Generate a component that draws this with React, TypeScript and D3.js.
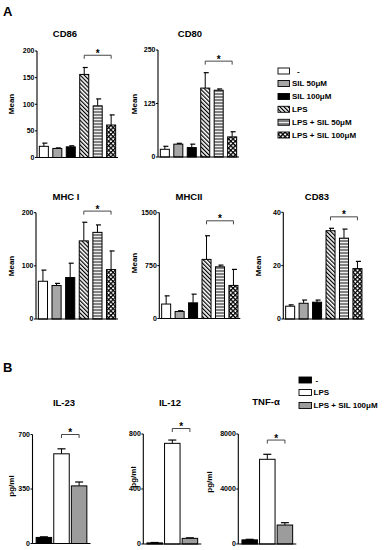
import React from 'react';
import * as d3 from 'd3';

const groupsA = ['-', 'SIL 50μM', 'SIL 100μM', 'LPS', 'LPS + SIL 50μM', 'LPS + SIL 100μM'];
const groupsB = ['-', 'LPS', 'LPS + SIL 100μM'];

const cd86Mean = [21, 17, 20, 156, 97, 61];
const cd86Err = [6, 1, 2, 13, 13, 19];
const cd80Mean = [18, 30, 22, 161, 156, 47];
const cd80Err = [7, 2, 8, 36, 3, 12];
const mhc1Mean = [71, 63, 78, 147, 163, 93];
const mhc1Err = [21, 4, 27, 35, 14, 35];
const mhc2Mean = [205, 100, 222, 838, 733, 469];
const mhc2Err = [116, 10, 123, 335, 24, 227];
const cd83Mean = [4.8, 5.9, 6.3, 33.1, 30.3, 18.9];
const cd83Err = [0.5, 1.2, 0.8, 0.9, 3.4, 2.7];

const il23Mean = [39, 576, 370];
const il23Err = [4, 32, 25];
const il12Mean = [8, 732, 41];
const il12Err = [3, 24, 4];
const tnfMean = [300, 6160, 1380];
const tnfErr = [40, 364, 170];

const ticksCD86 = [0, 50, 100, 150, 200];
const ticksCD80 = [0, 125, 250];
const ticksMHC1 = [0, 100, 200];
const ticksMHC2 = [0, 750, 1500];
const ticksCD83 = [0, 20, 40];
const ticksIL23 = [0, 350, 700];
const ticksIL12 = [0, 400, 800];
const ticksTNF = [0, 4000, 8000];

const sigCD86 = 192;
const sigCD80 = 224;
const sigMHC1 = 203;
const sigMHC2 = 1385;
const sigCD83 = 38.3;
const sigIL23 = 700;
const sigIL12 = 840;
const sigTNF = 7560;

const fillsA = ['#ffffff', '#a6a6a6', '#000000', 'url(#diag)', 'url(#horiz)', 'url(#cross)'];
const fillsB = ['#000000', '#ffffff', '#9c9c9c'];

type Panel = {
  title: string; mean: number[]; err: number[]; ticks: number[]; sig: number;
  ax: number; top: number; bottom: number; w: number;
  titleX: number; titleY: number; label: string; labelX: number; labelY: number;
  kind: 'A' | 'B';
};

const panels: Panel[] = [
  { title: 'CD86', mean: cd86Mean, err: cd86Err, ticks: ticksCD86, sig: sigCD86, ax: 37, top: 51, bottom: 157.5, w: 80, titleX: 65, titleY: 37, label: 'Mean', labelX: 14, labelY: 104, kind: 'A' },
  { title: 'CD80', mean: cd80Mean, err: cd80Err, ticks: ticksCD80, sig: sigCD80, ax: 158, top: 50, bottom: 157, w: 80, titleX: 190, titleY: 37, label: 'Mean', labelX: 137, labelY: 104, kind: 'A' },
  { title: 'MHC I', mean: mhc1Mean, err: mhc1Err, ticks: ticksMHC1, sig: sigMHC1, ax: 36, top: 212.7, bottom: 319, w: 81, titleX: 66, titleY: 200, label: 'Mean', labelX: 14, labelY: 266, kind: 'A' },
  { title: 'MHCII', mean: mhc2Mean, err: mhc2Err, ticks: ticksMHC2, sig: sigMHC2, ax: 159.3, top: 212.7, bottom: 318.5, w: 80, titleX: 189, titleY: 200, label: 'Mean', labelX: 137, labelY: 263, kind: 'A' },
  { title: 'CD83', mean: cd83Mean, err: cd83Err, ticks: ticksCD83, sig: sigCD83, ax: 283.3, top: 212.3, bottom: 319, w: 80, titleX: 317, titleY: 200, label: 'Mean', labelX: 261, labelY: 266, kind: 'A' },
  { title: 'IL-23', mean: il23Mean, err: il23Err, ticks: ticksIL23, sig: sigIL23, ax: 32.5, top: 434.5, bottom: 543.5, w: 57, titleX: 64, titleY: 406, label: 'pg/ml', labelX: 14, labelY: 486, kind: 'B' },
  { title: 'IL-12', mean: il12Mean, err: il12Err, ticks: ticksIL12, sig: sigIL12, ax: 143.3, top: 434, bottom: 544, w: 57, titleX: 170, titleY: 406, label: 'pg/ml', labelX: 136, labelY: 477, kind: 'B' },
  { title: 'TNF-α', mean: tnfMean, err: tnfErr, ticks: ticksTNF, sig: sigTNF, ax: 238.3, top: 434, bottom: 544, w: 57, titleX: 266, titleY: 405, label: 'pg/ml', labelX: 212, labelY: 482, kind: 'B' },
];

const FONT = '"Liberation Sans", Arial, sans-serif';

function PanelView({ p }: { p: Panel }) {
  const n = p.mean.length;
  const domainMax = p.ticks[p.ticks.length - 1];
  const y = d3.scaleLinear().domain([0, domainMax]).range([p.bottom, p.top]);
  const idx = d3.range(n).map(String);
  const x = d3.scaleBand<string>().domain(idx)
    .range([p.ax + 1, p.ax + p.w])
    .paddingInner(p.kind === 'A' ? 0.33 : 0.12)
    .paddingOuter(p.kind === 'A' ? 0.1 : 0.15);
  const bw = x.bandwidth();
  const fills = p.kind === 'A' ? fillsA : fillsB;
  const capW = p.kind === 'A' ? 5 : 8;
  const i1 = p.kind === 'A' ? 3 : 1;
  const i2 = n - 1;
  const bx1 = (x(String(i1)) as number) + bw / 2;
  const bx2 = (x(String(i2)) as number) + bw / 2;
  const by = y(p.sig);
  return (
    <g>
      <text x={p.titleX} y={p.titleY} textAnchor="middle" fontFamily={FONT} fontWeight="bold" fontSize={9.5}>{p.title}</text>
      <text transform={`translate(${p.labelX},${p.labelY}) rotate(-90)`} textAnchor="middle" fontFamily={FONT} fontWeight="bold" fontSize={8}>{p.label}</text>
      {p.mean.map((v, i) => {
        const xx = x(String(i)) as number;
        const cx = xx + bw / 2;
        return (
          <g key={i}>
            <line x1={cx} x2={cx} y1={y(v)} y2={y(v + p.err[i])} stroke="#000" strokeWidth={1} />
            <line x1={cx - capW / 2 + (p.kind === 'A' ? 1 : 0)} x2={cx + capW / 2 + (p.kind === 'A' ? 1 : 0)} y1={y(v + p.err[i])} y2={y(v + p.err[i])} stroke="#000" strokeWidth={1.2} />
            <rect x={xx} y={y(v)} width={bw} height={y(0) - y(v)} fill={fills[i]} stroke="#000" strokeWidth={1} />
          </g>
        );
      })}
      <line x1={p.ax} x2={p.ax} y1={y(domainMax)} y2={y(0)} stroke="#000" strokeWidth={1.1} />
      <line x1={p.ax} x2={p.ax + p.w + 1} y1={y(0)} y2={y(0)} stroke="#000" strokeWidth={1.1} />
      {p.ticks.map((t) => (
        <g key={t}>
          <line x1={p.ax - 2} x2={p.ax} y1={y(t)} y2={y(t)} stroke="#000" strokeWidth={1} />
          <text x={p.ax - 2.5} y={y(t) + 2.4} textAnchor="end" fontFamily={FONT} fontWeight="bold" fontSize={7}>{t}</text>
        </g>
      ))}
      <path d={`M${bx1},${by + 3.5}V${by}H${bx2}V${by + 3.5}`} fill="none" stroke="#333" strokeWidth={0.9} />
      <text x={(bx1 + bx2) / 2} y={by + 1.5} textAnchor="middle" fontFamily={FONT} fontWeight="bold" fontSize={10}>*</text>
    </g>
  );
}

const legendAX = 278;
const legendAY = [71, 83.5, 96.5, 109.3, 122.3, 135];
const legendBX = 299;
const legendBY = [380, 392.5, 405.5];

export default function App() {
  return (
    <svg width={384} height={550} style={{ position: 'absolute', left: 0, top: 0, background: '#fff' }}>
      <defs>
        <pattern id="diag" patternUnits="userSpaceOnUse" width={2.9} height={2.9} patternTransform="rotate(-45)">
          <rect width={2.9} height={2.9} fill="#fff" />
          <line x1={0.6} y1={0} x2={0.6} y2={2.9} stroke="#000" strokeWidth={1.2} />
        </pattern>
        <pattern id="horiz" patternUnits="userSpaceOnUse" width={4} height={3}>
          <rect width={4} height={3} fill="#eeeeee" />
          <line x1={0} y1={1} x2={4} y2={1} stroke="#555" strokeWidth={1.4} />
        </pattern>
        <pattern id="cross" patternUnits="userSpaceOnUse" width={3.2} height={3.2} patternTransform="rotate(45)">
          <rect width={3.2} height={3.2} fill="#fff" />
          <line x1={0} y1={0.6} x2={3.2} y2={0.6} stroke="#000" strokeWidth={1.3} />
          <line x1={0.6} y1={0} x2={0.6} y2={3.2} stroke="#000" strokeWidth={1.3} />
        </pattern>
      </defs>
      <text x={3} y={16} fontFamily={FONT} fontWeight="bold" fontSize={13}>A</text>
      <text x={3} y={372} fontFamily={FONT} fontWeight="bold" fontSize={13}>B</text>
      {panels.map((p) => <PanelView key={p.title} p={p} />)}
      {groupsA.map((g, i) => (
        <g key={g}>
          <rect x={legendAX} y={legendAY[i] - 3} width={11.5} height={6} fill={fillsA[i]} stroke="#000" strokeWidth={0.9} />
          <text x={legendAX + 14 + (i === 0 ? 5 : 0)} y={legendAY[i] + 2.9} fontFamily={FONT} fontWeight="bold" fontSize={8}>{g}</text>
        </g>
      ))}
      {groupsB.map((g, i) => (
        <g key={g}>
          <rect x={legendBX} y={legendBY[i] - 3} width={12.5} height={6} fill={fillsB[i]} stroke="#000" strokeWidth={0.9} />
          <text x={legendBX + 14.5 + (i === 0 ? 2 : 0)} y={legendBY[i] + 2.9} fontFamily={FONT} fontWeight="bold" fontSize={8}>{g}</text>
        </g>
      ))}
    </svg>
  );
}
